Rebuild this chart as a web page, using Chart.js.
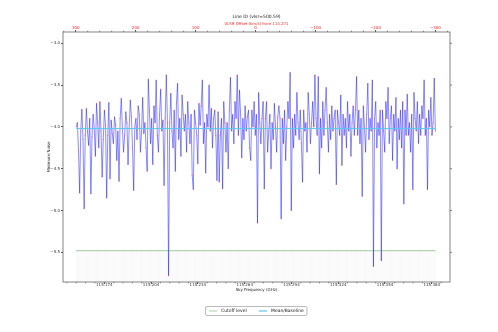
<!DOCTYPE html>
<html>
<head>
<meta charset="utf-8">
<script src="https://cdn.jsdelivr.net/npm/chart.js@4.4.1/dist/chart.umd.min.js"></script>
<style>
  body { margin: 0; background: #fff; }
</style>
</head>
<body>
<canvas id="myChart" width="498" height="332"></canvas>
<script>
// spectral setup
const REST_FREQ = 115.271;      // GHz
const C_KMS = 299792.458;
const VLSR = 500.59;
const freqStart = 115.1560;     // first channel, GHz
const chanWidth = 0.000722;     // GHz per channel

// minimum / noise per channel
const minNoise = [
  -4.00, -3.95, -4.28, -4.79, -4.05, -3.79, -4.15, -4.98, -4.10, -3.78,
  -4.06, -4.22, -3.90, -4.80, -4.12, -3.85, -4.02, -4.35, -3.72, -3.95,
  -4.25, -3.70, -4.05, -4.60, -4.15, -3.80, -3.98, -4.85, -4.10, -3.71,
  -4.62, -3.92, -4.08, -4.20, -3.88, -3.98, -4.40, -4.05, -4.65, -3.90,
  -3.66, -4.02, -4.30, -4.10, -3.82, -3.95, -4.45, -4.02, -3.68, -3.88,
  -4.25, -4.76, -4.00, -3.90, -4.15, -3.75, -3.85, -4.30, -4.05, -3.65,
  -4.08, -3.95, -4.25, -4.53, -3.43, -3.80, -4.20, -3.90, -4.45, -3.75,
  -3.95, -3.44, -4.10, -4.30, -3.85, -3.55, -4.05, -3.92, -4.70, -3.90,
  -3.38, -3.95, -5.78, -3.95, -3.60, -4.05, -4.25, -3.80, -4.53, -3.72,
  -3.48, -4.15, -3.90, -4.35, -3.62, -3.85, -4.05, -3.85, -4.30, -3.70,
  -3.95, -4.20, -3.85, -4.58, -4.75, -3.80, -3.95, -4.10, -4.44, -3.72,
  -3.98, -3.75, -3.44, -4.20, -3.95, -4.55, -3.85, -4.00, -3.50, -4.05,
  -3.78, -4.25, -3.90, -3.80, -4.10, -4.64, -3.82, -4.66, -4.10, -3.90,
  -4.74, -3.70, -3.95, -4.30, -3.95, -4.50, -3.80, -3.41, -4.05, -3.85,
  -4.20, -3.70, -3.90, -3.38, -4.10, -3.56, -3.85, -4.37, -3.90, -4.15,
  -3.75, -4.05, -3.88, -3.80, -4.25, -4.40, -3.80, -4.00, -3.70, -4.10,
  -3.85, -5.15, -3.59, -3.95, -4.20, -3.90, -3.70, -4.74, -3.90, -3.70,
  -4.30, -4.05, -3.85, -4.50, -3.95, -4.15, -3.72, -4.00, -4.30, -3.88,
  -3.75, -3.90, -5.10, -3.90, -4.20, -3.80, -4.40, -4.00, -3.70, -3.90,
  -3.35, -5.00, -3.90, -4.25, -3.85, -4.10, -3.59, -3.95, -4.15, -3.80,
  -4.20, -4.66, -3.80, -4.05, -3.95, -4.30, -3.59, -3.85, -4.20, -3.95,
  -3.70, -4.00, -3.38, -3.90, -4.10, -3.40, -4.56, -3.90, -4.25, -3.70,
  -4.10, -3.80, -3.53, -3.95, -4.30, -3.85, -4.15, -3.75, -4.05, -3.90,
  -3.80, -4.69, -3.80, -3.95, -4.10, -3.62, -4.46, -3.85, -4.10, -3.90,
  -4.25, -3.70, -4.05, -3.85, -4.35, -3.95, -3.75, -4.10, -3.80, -3.40,
  -4.10, -3.80, -4.20, -3.90, -4.83, -3.75, -4.00, -4.30, -3.85, -3.48,
  -4.15, -3.90, -4.05, -3.44, -5.67, -3.90, -3.70, -4.25, -3.95, -4.10,
  -3.80, -5.60, -3.80, -4.05, -4.30, -3.70, -3.90, -3.53, -4.20, -3.90,
  -3.75, -4.40, -3.85, -4.05, -3.65, -4.50, -3.90, -4.15, -3.80, -4.25,
  -3.70, -4.92, -3.80, -4.10, -3.61, -4.10, -3.95, -4.30, -3.85, -4.75,
  -3.59, -3.90, -4.05, -3.70, -4.20, -3.85, -4.10, -3.75, -3.90, -3.44,
  -4.10, -3.90, -4.75, -3.80, -4.00, -3.65, -4.10, -3.95, -3.42, -4.05
];
const meanLevel = -4.02;
const cutoffLevel = -5.48;

// tick labels
const freqTicks = [115.174, 115.204, 115.234, 115.264, 115.294, 115.324, 115.354, 115.384];
const velTicks = [300, 200, 100, 0, -100, -200, -300];
const noiseTicks = [-3.0, -3.5, -4.0, -4.5, -5.0, -5.5];

// axis limits
const X_MIN = 115.1475, X_MAX = 115.3957;
const Y_MIN = -5.855, Y_MAX = -2.865;

const FONT = 'DejaVu Sans';
const freqs = minNoise.map((_, i) => freqStart + i * chanWidth);
const vel = f => C_KMS * (1 - f / REST_FREQ);
const minus = s => String(s).replace('-', '\u2212');
const fixTicks = list => scale => { scale.ticks = list.map(v => ({ value: v })); };

// frame, minor ticks, titles and legend box
const decor = {
  id: 'decor',
  afterDraw(chart) {
    const { ctx, chartArea: a, scales } = chart;
    ctx.save();
    ctx.strokeStyle = '#666';
    ctx.lineWidth = 0.8;
    ctx.strokeRect(a.left, a.top, a.right - a.left, a.bottom - a.top);

    // minor ticks
    ctx.beginPath();
    for (let f = 115.150; f < X_MAX; f += 0.006) {
      const x = scales.x.getPixelForValue(f);
      if (x < a.left || x > a.right) continue;
      ctx.moveTo(x, a.bottom); ctx.lineTo(x, a.bottom + 1.3);
    }
    for (let v = -320; v <= 320; v += 20) {
      const x = scales.xTop.getPixelForValue(v);
      if (x < a.left || x > a.right) continue;
      ctx.moveTo(x, a.top); ctx.lineTo(x, a.top - 1.3);
    }
    noiseTicks.forEach(v => {
      const y = scales.y.getPixelForValue(v);
      ctx.moveTo(a.right, y); ctx.lineTo(a.right + 2, y);
    });
    ctx.stroke();

    const cx = (a.left + a.right) / 2;
    ctx.textAlign = 'center';
    ctx.textBaseline = 'middle';
    ctx.fillStyle = '#222';
    ctx.font = `4.5px "${FONT}"`;
    ctx.fillText(`Line ID (vlsr=${VLSR})`, cx, 17.3);
    ctx.fillStyle = '#ff2020';
    ctx.font = `3.9px "${FONT}"`;
    ctx.fillText(`VLSR Offset (km/s) from ${REST_FREQ}`, cx, 24);
    ctx.fillStyle = '#222';
    ctx.font = `4px "${FONT}"`;
    ctx.fillText('Sky Frequency (GHz)', cx, 289.5);
    ctx.save();
    ctx.translate(49, (a.top + a.bottom) / 2);
    ctx.rotate(-Math.PI / 2);
    ctx.fillText('Minimum/Noise', 0, 0);
    ctx.restore();

    // legend
    const lx = 205.5, ly = 306.5, lw = 101.5, lh = 9;
    ctx.beginPath();
    ctx.roundRect(lx, ly, lw, lh, 1.5);
    ctx.fillStyle = '#fff';
    ctx.fill();
    ctx.strokeStyle = '#aaa';
    ctx.lineWidth = 0.8;
    ctx.stroke();
    const items = [
      { label: 'Cutoff level', color: 'rgba(0,128,0,0.3)', x: 209 },
      { label: 'Mean/Baseline', color: '#5cc8f0', x: 259 }
    ];
    ctx.font = `4.5px "${FONT}"`;
    ctx.textAlign = 'left';
    items.forEach(it => {
      ctx.beginPath();
      ctx.strokeStyle = it.color;
      ctx.lineWidth = 1.2;
      ctx.moveTo(it.x, ly + lh / 2); ctx.lineTo(it.x + 8, ly + lh / 2);
      ctx.stroke();
      ctx.fillStyle = '#222';
      ctx.fillText(it.label, it.x + 12, ly + lh / 2);
    });
    ctx.restore();
  }
};

let myChart;
const setup = () => {
  Chart.defaults.font.family = FONT;
  const ctxt = document.getElementById('myChart').getContext('2d');
  myChart = new Chart(ctxt, {
    type: 'line',
    data: {
      datasets: [
        {
          label: 'Mean/Baseline',
          data: [{ x: freqs[0], y: meanLevel }, { x: freqs[freqs.length - 1], y: meanLevel }],
          borderColor: '#5cc8f0',
          borderWidth: 1,
          pointRadius: 0,
          order: 0
        },
        {
          label: 'Cutoff level',
          data: [{ x: freqs[0], y: cutoffLevel }, { x: freqs[freqs.length - 1], y: cutoffLevel }],
          borderColor: 'rgba(0,128,0,0.3)',
          borderWidth: 1.4,
          pointRadius: 0,
          order: 1
        },
        {
          label: 'Minimum/Noise',
          data: freqs.map((f, i) => ({ x: f, y: minNoise[i] })),
          borderColor: 'rgba(0,0,255,0.45)',
          borderWidth: 1,
          pointRadius: 0.7,
          pointBorderWidth: 0,
          pointBackgroundColor: 'rgba(255,70,70,0.55)',
          order: 2
        },
        {
          type: 'bar',
          label: 'below cutoff',
          data: freqs.map(f => ({ x: f, y: [Y_MIN, cutoffLevel] })),
          backgroundColor: 'rgba(0,0,0,0.025)',
          barThickness: 0.5,
          order: 3
        }
      ]
    },
    options: {
      responsive: false,
      animation: false,
      layout: { padding: { left: 0, right: 48, top: 0, bottom: 0 } },
      plugins: {
        legend: { display: false },
        title: { display: false },
        tooltip: { enabled: false }
      },
      scales: {
        x: {
          type: 'linear',
          position: 'bottom',
          offset: false,
          min: X_MIN,
          max: X_MAX,
          afterBuildTicks: fixTicks(freqTicks),
          afterFit: s => { s.height = 50; },
          border: { display: false },
          grid: { drawOnChartArea: false, tickLength: 2, color: '#555', offset: false },
          ticks: { font: { size: 4 }, color: '#333', padding: -1, maxRotation: 0, autoSkip: false,
                   callback: v => v.toFixed(3) }
        },
        xTop: {
          type: 'linear',
          position: 'top',
          offset: false,
          reverse: true,
          min: vel(X_MAX),
          max: vel(X_MIN),
          afterBuildTicks: fixTicks(velTicks),
          afterFit: s => { s.height = 32; },
          border: { display: false },
          grid: { drawOnChartArea: false, tickLength: 2, color: '#555', offset: false },
          ticks: { font: { size: 4 }, color: '#ff2020', padding: 0, maxRotation: 0, autoSkip: false,
                   callback: v => minus(v) }
        },
        y: {
          type: 'linear',
          position: 'left',
          min: Y_MIN,
          max: Y_MAX,
          afterBuildTicks: fixTicks(noiseTicks),
          afterFit: s => { s.width = 63; },
          border: { display: false },
          grid: { drawOnChartArea: false, tickLength: 2, color: '#555' },
          ticks: { font: { size: 4 }, color: '#333', padding: 1, callback: v => minus(v.toFixed(1)) }
        }
      }
    },
    plugins: [decor]
  });
};

window.addEventListener('DOMContentLoaded', setup);
</script>
</body>
</html>
